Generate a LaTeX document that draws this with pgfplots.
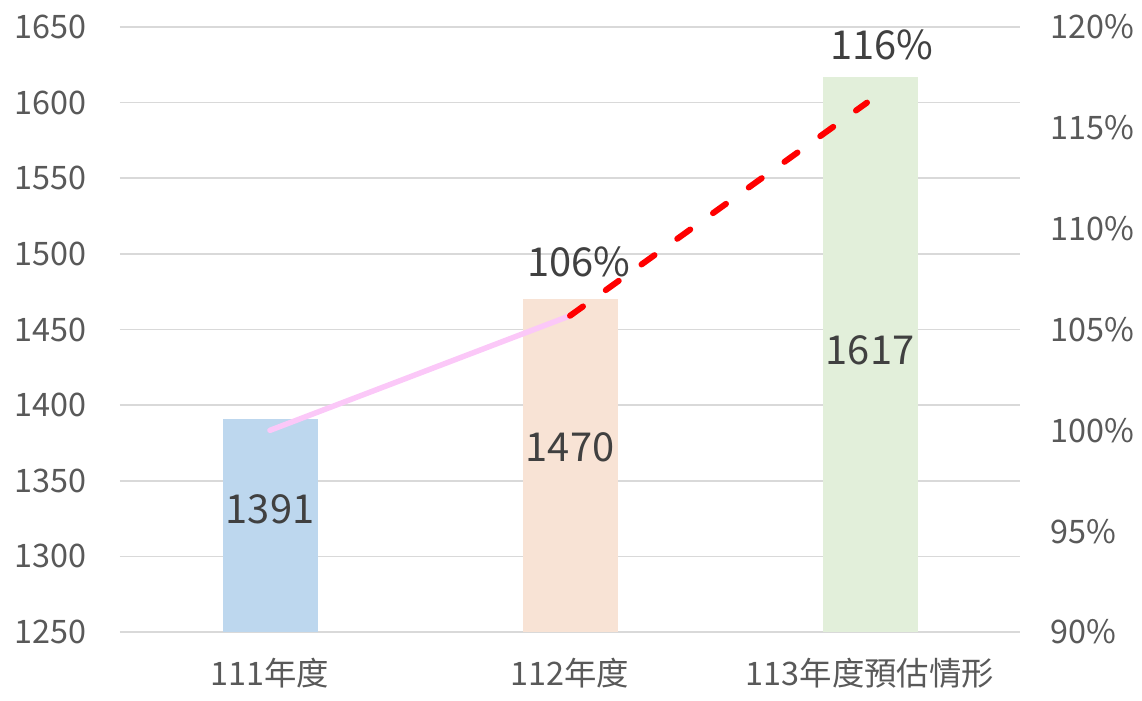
\documentclass[border=0pt]{standalone}
\usepackage{pgfplots}
\pgfplotsset{compat=1.18}
\usepackage{fontspec}
\setmainfont{Noto Sans CJK TC}
\definecolor{tickgray}{HTML}{595959}
\definecolor{lblgray}{HTML}{404040}
\definecolor{gridgray}{HTML}{D9D9D9}
\definecolor{barblue}{HTML}{BDD7EE}
\definecolor{barpeach}{HTML}{F8E3D5}
\definecolor{bargreen}{HTML}{E2EFDA}
\definecolor{linepink}{HTML}{FBC8F8}
\begin{document}
\begin{tikzpicture}
\pgfplotsset{
  common/.style={
    scale only axis, width=900bp, height=605bp,
    xmin=-0.5, xmax=2.5,
    /pgf/number format/assume math mode=true,
    /pgf/number format/set thousands separator={},
    tick style={draw=none},
    ticklabel style={font=\fontsize{32.5}{38}\selectfont, text=tickgray},
  }
}
\begin{axis}[common,
  name=main,
  ymin=1250, ymax=1650, ytick={1250,1300,...,1650},
  ymajorgrids, grid style={gridgray, line width=1.5bp},
  axis x line*=bottom, axis y line*=left,
  x axis line style={gridgray, line width=1.5bp, -},
  y axis line style={draw=none},
  xtick={0,1,2},
  xticklabels={111年度,112年度,113年度預估情形},
  xticklabel style={yshift=-18bp},
  yticklabel style={xshift=-30bp},
  ybar, bar width=95bp, bar shift=0bp,
  clip=false,
]
\addplot[fill=barblue, draw=none] coordinates {(0,1391)};
\addplot[fill=barpeach, draw=none] coordinates {(1,1470)};
\addplot[fill=bargreen, draw=none] coordinates {(2,1617)};
\node[text=lblgray, font=\fontsize{40}{46}\selectfont] at (axis cs:0,1331) {1391};
\node[text=lblgray, font=\fontsize{40}{46}\selectfont] at (axis cs:1,1372) {1470};
\node[text=lblgray, font=\fontsize{40}{46}\selectfont] at (axis cs:2,1436) {1617};
\end{axis}
\begin{axis}[common,
  ymin=90, ymax=120, ytick={90,95,...,120},
  axis y line*=right, axis x line=none,
  y axis line style={draw=none},
  yticklabel={\pgfmathprintnumber{\tick}\%},
  yticklabel style={xshift=27bp},
  clip=false,
]
\addplot[linepink, line width=5.5bp, line cap=round] coordinates {(0,100.0) (1,105.68)};
\addplot[red, line width=6bp, line cap=round, dash pattern=on 16bp off 28bp] coordinates {(1,105.68) (1.99,116.25)};
\node[text=lblgray, font=\fontsize{40}{46}\selectfont] at (axis cs:1.03,108.35) {106\%};
\node[text=lblgray, font=\fontsize{40}{46}\selectfont] at (axis cs:2.04,119.1) {116\%};
\end{axis}
\pgfresetboundingbox
\path[use as bounding box] (main.south west) ++(-120bp,-69bp) rectangle ++(1142bp,701bp);
\end{tikzpicture}
\end{document}
